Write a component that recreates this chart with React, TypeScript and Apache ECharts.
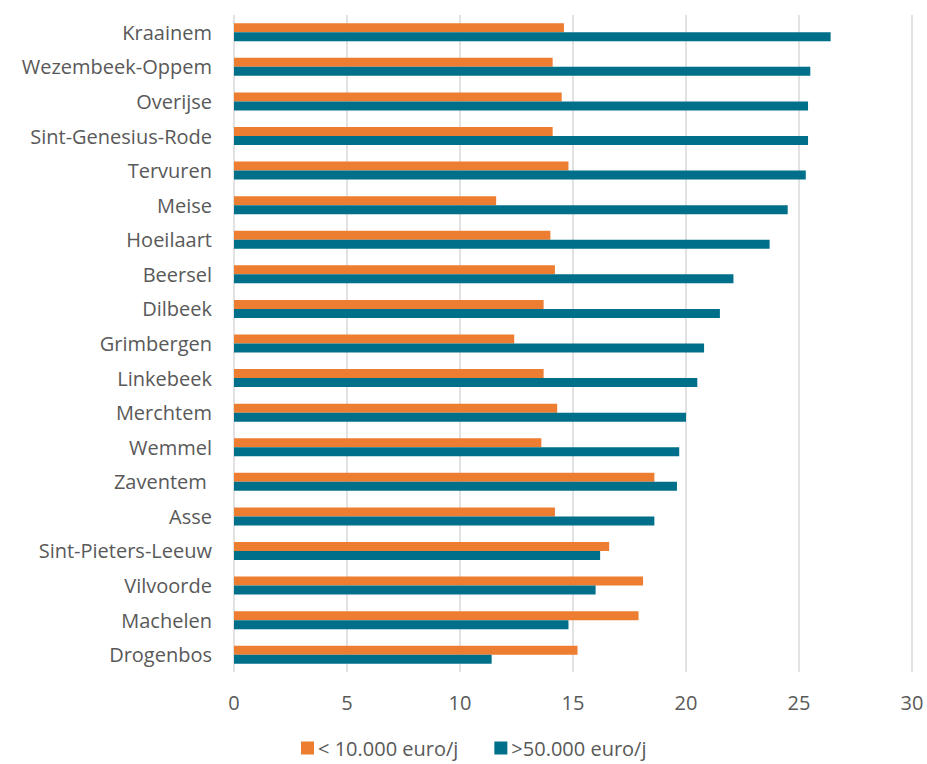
import React, { useEffect, useRef } from "react";
import * as echarts from "echarts";

const categories = [
  "Kraainem", "Wezembeek-Oppem", "Overijse", "Sint-Genesius-Rode", "Tervuren",
  "Meise", "Hoeilaart", "Beersel", "Dilbeek", "Grimbergen", "Linkebeek",
  "Merchtem", "Wemmel", "Zaventem ", "Asse", "Sint-Pieters-Leeuw",
  "Vilvoorde", "Machelen", "Drogenbos",
];
const lowIncome = [14.6, 14.1, 14.5, 14.1, 14.8, 11.6, 14.0, 14.2, 13.7, 12.4, 13.7, 14.3, 13.6, 18.6, 14.2, 16.6, 18.1, 17.9, 15.2];
const highIncome = [26.4, 25.5, 25.4, 25.4, 25.3, 24.5, 23.7, 22.1, 21.5, 20.8, 20.5, 20.0, 19.7, 19.6, 18.6, 16.2, 16.0, 14.8, 11.4];
const seriesNames = ["< 10.000 euro/j", ">50.000 euro/j"];

export default function App() {
  const ref = useRef<HTMLDivElement>(null);
  useEffect(() => {
    if (!ref.current) return;
    const chart = echarts.init(ref.current, null, { renderer: "svg" });
    const font = "'Open Sans', sans-serif";
    chart.setOption({
      animation: false,
      backgroundColor: "#ffffff",
      textStyle: { fontFamily: font },
      grid: { left: 234, right: 15, top: 15, bottom: 92, containLabel: false },
      legend: {
        top: 733,
        left: 296,
        icon: "rect",
        itemWidth: 13,
        itemHeight: 13,
        itemGap: 36,
        textStyle: { color: "#595959", fontSize: 20, fontFamily: font, padding: [0, 0, 0, -1] },
        data: seriesNames,
      },
      xAxis: {
        type: "value",
        min: 0,
        max: 30,
        interval: 5,
        axisLine: { show: false },
        axisTick: { show: false },
        axisLabel: { color: "#595959", fontSize: 20, margin: 20, fontFamily: font },
        splitLine: { lineStyle: { color: "#d9d9d9", width: 1.5 } },
      },
      yAxis: {
        type: "category",
        inverse: true,
        data: categories,
        axisLine: { show: false },
        axisTick: { show: false },
        axisLabel: { color: "#595959", fontSize: 20, margin: 22, fontFamily: font },
      },
      series: [
        {
          name: seriesNames[0],
          type: "bar",
          data: lowIncome,
          itemStyle: { color: "#ED7D31" },
          barWidth: 9,
          barGap: "0%",
        },
        {
          name: seriesNames[1],
          type: "bar",
          data: highIncome,
          itemStyle: { color: "#00708A" },
          barWidth: 9,
          barGap: "0%",
        },
      ],
    });
    return () => chart.dispose();
  }, []);
  return (
    <div
      ref={ref}
      style={{ position: "fixed", left: 0, top: 0, width: 927, height: 764 }}
    />
  );
}
